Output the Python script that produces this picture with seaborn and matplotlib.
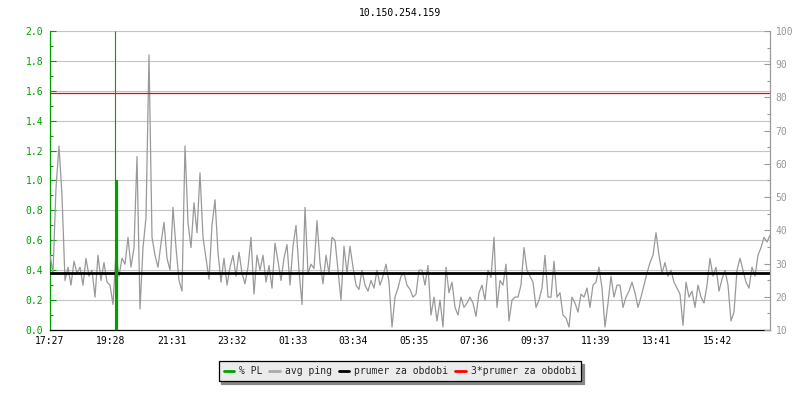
import matplotlib
matplotlib.use("Agg")
import matplotlib.pyplot as plt
import seaborn as sns
import numpy as np
import pandas as pd
from matplotlib.lines import Line2D
from matplotlib.ticker import MultipleLocator, FormatStrFormatter

sns.set_theme(style="white")
plt.rcParams["font.family"] = ["DejaVu Sans Mono", "DejaVu Sans"]

title = "10.150.254.159"

# avg ping (ms), one value every 6 minutes starting 17:27
step_min = 6
ping_ms = [
    32.5, 27.1, 52.8, 65.4, 50.5, 24.9, 28.9, 23.5, 30.7, 27.1,
    28.9, 23.5, 31.6, 26.2, 28.0, 19.9, 32.5, 24.9, 30.3, 24.4,
    23.5, 17.7, 33.4, 26.2, 31.6, 29.8, 37.9, 28.9, 34.8, 62.2,
    16.3, 34.8, 43.8, 92.8, 37.9, 32.5, 28.9, 36.1, 42.4, 31.6,
    28.0, 46.9, 34.8, 24.9, 21.7, 65.4, 42.4, 34.8, 48.3, 39.3,
    57.3, 37.9, 31.6, 25.3, 41.5, 49.2, 33.4, 24.4, 31.6, 23.5,
    28.9, 32.5, 26.2, 33.4, 27.1, 23.9, 28.9, 37.9, 20.8, 32.5,
    28.0, 32.5, 24.4, 29.4, 22.6, 36.1, 30.7, 24.9, 31.6, 35.7,
    23.5, 35.2, 41.5, 28.0, 17.7, 46.9, 27.1, 29.8, 28.5, 42.9,
    30.3, 23.9, 32.5, 27.1, 37.9, 37.0, 28.0, 19.0, 35.2, 27.1,
    35.2, 28.9, 23.5, 22.2, 28.0, 23.5, 21.7, 24.9, 22.6, 28.0,
    23.5, 26.2, 29.8, 24.4, 10.9, 19.9, 22.6, 26.2, 27.1, 23.5,
    22.2, 19.9, 20.8, 28.0, 28.0, 23.5, 29.4, 14.5, 19.9, 12.7,
    19.0, 10.9, 28.9, 21.2, 24.4, 16.8, 14.5, 19.9, 16.8, 18.1,
    19.9, 18.1, 14.1, 21.2, 23.5, 19.0, 28.0, 25.8, 37.9, 16.8,
    24.9, 23.5, 29.8, 12.7, 19.0, 19.9, 19.9, 23.5, 34.8, 28.0,
    26.2, 24.4, 16.8, 19.0, 22.6, 32.5, 19.9, 19.9, 30.7, 19.9,
    21.2, 14.5, 13.6, 10.9, 19.9, 18.1, 15.4, 20.8, 19.9, 22.6,
    16.8, 23.5, 24.4, 28.9, 22.6, 10.9, 18.1, 26.2, 19.9, 23.5,
    23.5, 16.8, 19.9, 21.7, 24.4, 21.2, 16.8, 19.9, 23.5, 27.1,
    30.3, 32.5, 39.3, 32.5, 27.1, 30.3, 26.2, 28.0, 24.4, 22.6,
    20.8, 11.4, 24.4, 19.9, 21.7, 16.8, 23.5, 19.9, 18.1, 23.5,
    31.6, 26.2, 28.9, 21.7, 25.3, 28.0, 23.5, 12.7, 15.4, 28.0,
    31.6, 28.0, 24.4, 22.6, 28.9, 26.2, 32.5, 34.8, 37.9, 36.5, 38.5,
]

# packet loss events (minutes after start, %)
pl_minutes = [130, 133]
pl_values = [2.0, 1.0]

avg_ms = 27.1  # prumer za obdobi

tick_labels = ["17:27", "19:28", "21:31", "23:32", "01:33", "03:34",
               "05:35", "07:36", "09:37", "11:39", "13:41", "15:42"]

GREEN = "#00a000"
GRAY = "#999999"

df = pd.DataFrame({"min": np.arange(len(ping_ms)) * step_min, "ping": ping_ms})

def to_min(lbl, start):
    h, m = map(int, lbl.split(":"))
    return (h * 60 + m - start) % 1440

start = to_min(tick_labels[0], 0)
tick_pos = [to_min(t, start) for t in tick_labels]

fig = plt.figure(figsize=(8, 4), dpi=100)
ax = fig.add_axes([50 / 800, 1 - 330 / 400, 720 / 800, 299 / 400])
ax2 = ax.twinx()

# left axis: % PL
ax.set_xlim(0, 1440)
ax.set_ylim(0, 2.0)
ax.yaxis.set_major_locator(MultipleLocator(0.2))
ax.yaxis.set_minor_locator(MultipleLocator(0.1))
ax.yaxis.set_major_formatter(FormatStrFormatter("%.1f"))
ax.grid(axis="y", which="major", color="#c4c4c4", linewidth=0.8)
ax.grid(axis="x", visible=False)
ax.set_xticks(tick_pos)
ax.set_xticklabels(tick_labels)
ax.tick_params(axis="y", which="both", direction="in", colors=GREEN,
               labelsize=7, pad=5, width=0.8)
ax.tick_params(axis="y", which="major", length=4)
ax.tick_params(axis="y", which="minor", length=2.4, left=True)
ax.tick_params(axis="x", direction="in", colors="black", labelsize=7,
               length=4, width=0.8, pad=4)
for s in ["top", "right"]:
    ax.spines[s].set_visible(False)
ax.spines["left"].set_color(GREEN)
ax.spines["left"].set_linewidth(0.9)
ax.spines["bottom"].set_color("black")
ax.spines["bottom"].set_linewidth(0.9)

# right axis: ping in ms
ax2.set_ylim(10, 100)
ax2.set_xlim(0, 1440)
sns.lineplot(data=df, x="min", y="ping", ax=ax2, color="#999999",
             linewidth=0.9)
ax2.axhline(avg_ms, color="black", linewidth=2.0)
ax2.axhline(3 * avg_ms, color="#ff0000", linewidth=0.9)
ax2.vlines(pl_minutes, 0, pl_values, colors=GREEN, linewidths=[0.8, 1.6],
           transform=ax.transData)
ax2.set_xlabel("")
ax2.set_ylabel("")
ax.set_xlabel("")
ax2.yaxis.set_major_locator(MultipleLocator(10))
ax2.yaxis.set_minor_locator(MultipleLocator(5))
ax2.tick_params(axis="y", which="both", direction="in", colors=GRAY,
                labelsize=7, pad=4, width=0.8)
ax2.tick_params(axis="y", which="major", length=4)
ax2.tick_params(axis="y", which="minor", length=2.4, right=True)
ax2.grid(False)
for s in ["top", "left", "bottom"]:
    ax2.spines[s].set_visible(False)
ax2.spines["right"].set_color(GRAY)
ax2.spines["right"].set_linewidth(0.9)

fig.text(0.5, 1 - 13 / 400, title, ha="center", va="center", fontsize=7,
         color="black")

handles = [Line2D([], [], color=GREEN, lw=2),
           Line2D([], [], color="#aaaaaa", lw=2),
           Line2D([], [], color="black", lw=2),
           Line2D([], [], color="#ff0000", lw=2)]
labels = ["% PL", "avg ping", "prumer za obdobi", "3*prumer za obdobi"]
leg = fig.legend(handles, labels, loc="center", bbox_to_anchor=(0.5, 1 - 371 / 400),
                 ncol=4, fontsize=7, frameon=True, fancybox=False,
                 shadow={"color": "#888888", "alpha": 1},
                 edgecolor="black", facecolor="#ebebeb", framealpha=1,
                 handlelength=1.1, handletextpad=0.5, columnspacing=0.7,
                 borderpad=0.5)
leg.get_frame().set_linewidth(0.9)

fig.savefig("out.png", dpi=100)
plt.close(fig)
